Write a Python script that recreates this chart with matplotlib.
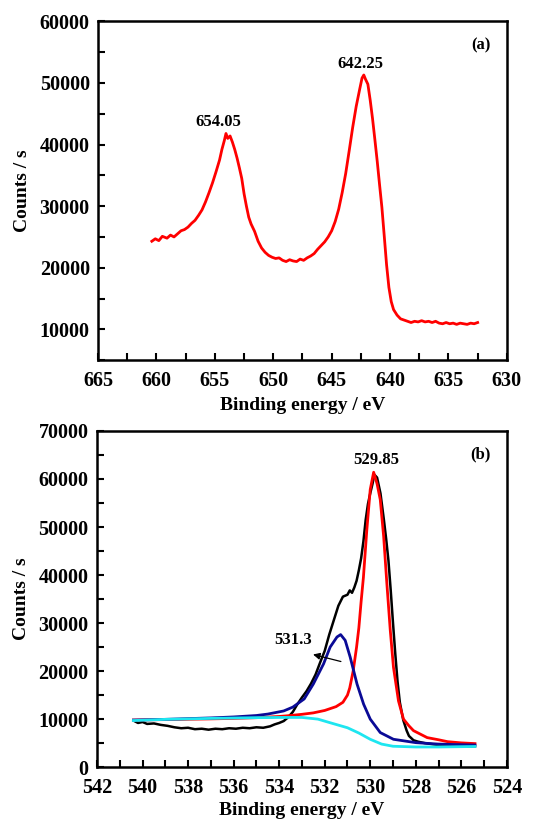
import matplotlib
matplotlib.use("Agg")
import matplotlib.pyplot as plt
from matplotlib.ticker import MultipleLocator

plt.rcParams['font.family'] = ['Liberation Serif', 'DejaVu Serif']
plt.rcParams['font.weight'] = 'bold'

# (a) Mn 2p spectrum
mn_x = [660.4, 660.1, 659.8, 659.5, 659.1, 658.8, 658.5, 658.2, 657.9, 657.6,
        657.3, 657.0, 656.7, 656.4, 656.1, 655.8, 655.5, 655.2, 654.9, 654.6,
        654.4, 654.2, 654.05, 653.9, 653.7, 653.5, 653.3, 653.1, 652.9, 652.7,
        652.5, 652.3, 652.1, 651.9, 651.6, 651.3, 651.0, 650.7, 650.4, 650.1,
        649.8, 649.5, 649.2, 648.9, 648.6, 648.3, 648.0, 647.7, 647.4, 647.1,
        646.8, 646.5, 646.2, 645.9, 645.6, 645.3, 645.0, 644.7, 644.4, 644.1,
        643.8, 643.5, 643.2, 642.9, 642.6, 642.4, 642.25, 642.1, 641.9, 641.7,
        641.5, 641.3, 641.1, 640.9, 640.7, 640.5, 640.3, 640.1, 639.9, 639.7,
        639.4, 639.1, 638.8, 638.5, 638.2, 637.9, 637.6, 637.3, 637.0, 636.7,
        636.4, 636.1, 635.8, 635.5, 635.2, 634.9, 634.6, 634.3, 634.0, 633.7,
        633.4, 633.1, 632.8, 632.5]
mn_y = [24300, 24700, 24400, 25100, 24800, 25300, 25000, 25500, 26000, 26200,
        26600, 27200, 27700, 28500, 29400, 30700, 32200, 33800, 35600, 37500,
        39200, 40600, 41800, 41000, 41400, 40400, 39200, 37800, 36200, 34500,
        32000, 30000, 28200, 27100, 25900, 24300, 23200, 22500, 22000, 21700,
        21500, 21600, 21200, 21000, 21300, 21100, 21000, 21400, 21200, 21600,
        21900, 22300, 23000, 23600, 24200, 25000, 26000, 27500, 29500, 32200,
        35300, 39000, 42800, 46200, 49000, 50800, 51300, 50600, 49800, 47200,
        44200, 40800, 37300, 33500, 29800, 25200, 20500, 16800, 14500, 13200,
        12300, 11700, 11500, 11300, 11100, 11300, 11200, 11400, 11200, 11300,
        11100, 11300, 11000, 10900, 11100, 10900, 11000, 10800, 11000, 10900,
        10800, 11000, 10900, 11100]

# (b) O 1s spectrum and fitted components
o_x = [540.4, 540.2, 540.0, 539.8, 539.5, 539.2, 538.9, 538.6, 538.3, 538.0,
       537.7, 537.4, 537.1, 536.8, 536.5, 536.2, 535.9, 535.6, 535.3, 535.0,
       534.7, 534.4, 534.2, 534.0, 533.8, 533.6, 533.4, 533.2, 533.0, 532.8,
       532.6, 532.4, 532.2, 532.0, 531.8, 531.6, 531.4, 531.2, 531.0, 530.9,
       530.8, 530.7, 530.6, 530.5, 530.4, 530.3, 530.2, 530.1, 530.0, 529.9,
       529.82, 529.7, 529.55, 529.4, 529.3, 529.2, 529.1, 529.0, 528.9, 528.8,
       528.7, 528.55, 528.4, 528.3, 528.1, 527.9, 527.6, 527.3, 527.0, 526.6,
       526.2, 525.8, 525.4]
o_y = [9700, 9200, 9400, 9000, 9100, 8800, 8600, 8300, 8100, 8200,
       7900, 8000, 7800, 8000, 7900, 8100, 8000, 8200, 8100, 8300,
       8200, 8500, 8900, 9200, 9600, 10400, 11500, 13100, 14500, 15800,
       17400, 19300, 21800, 24200, 27600, 30600, 33600, 35500, 35900, 36800,
       36300, 37400, 38800, 41000, 43500, 47000, 51500, 54800, 57000, 59000,
       60900, 60300, 57000, 51500, 47500, 43000, 36800, 30000, 23600, 17800,
       13500, 9800, 7600, 6500, 5600, 5300, 5000, 4800, 4600, 4500,
       4400, 4300, 4350]

red_x = [540.4, 539.0, 537.0, 536.0, 535.0, 534.0, 533.5, 533.0, 532.5, 532.0,
         531.5, 531.2, 531.0, 530.9, 530.75, 530.6, 530.5, 530.4, 530.3, 530.15,
         530.0, 529.85, 529.7, 529.56, 529.41, 529.27, 529.12, 528.98, 528.76, 528.54,
         528.3, 528.1, 527.5, 527.0, 526.6, 526.0, 525.4]
red_y = [9800, 9900, 10050, 10150, 10300, 10550, 10750, 11000, 11300, 11800,
         12600, 13500, 15000, 16500, 20000, 25000, 29000, 34500, 39500, 49400,
         57800, 61400, 59000, 55700, 48000, 38250, 28480, 20800, 13800, 10000,
         8600, 7600, 6150, 5700, 5300, 5050, 4900]

blue_x = [540.4, 539.0, 538.0, 537.0, 536.0, 535.0, 534.5, 533.8, 533.4, 532.9,
          532.5, 532.05, 531.76, 531.46, 531.3, 531.1, 530.88, 530.58, 530.29, 530.0,
          529.56, 528.98, 528.0, 527.0, 525.4]
blue_y = [9800, 9950, 10100, 10250, 10450, 10750, 11050, 11700, 12500, 14200,
          17300, 21500, 25000, 27100, 27600, 26400, 22900, 17300, 13100, 10000,
          7200, 5800, 5100, 4800, 4600]

cyan_x = [540.4, 539.0, 537.0, 535.0, 534.0, 533.0, 532.3, 531.8, 531.0, 530.5,
          530.0, 529.5, 529.0, 528.0, 527.0, 525.4]
cyan_y = [9700, 9950, 10150, 10300, 10350, 10350, 10000, 9300, 8200, 7100,
          5800, 4800, 4350, 4200, 4200, 4300]


def style_axes(ax):
    for s in ax.spines.values():
        s.set_linewidth(1.8)
    ax.tick_params(which='both', direction='in', length=5, width=1.5,
                   labelsize=14.5, top=False, right=False)
    ax.tick_params(axis='x', which='both', pad=8)
    ax.tick_params(axis='y', which='both', pad=6)
    for lab in ax.get_xticklabels() + ax.get_yticklabels():
        lab.set_fontweight('bold')
    ax.set_xlabel('Binding energy / eV', fontsize=14, fontweight='bold', labelpad=4)
    ax.set_ylabel('Counts / s', fontsize=14, fontweight='bold', labelpad=6)


fig = plt.figure(figsize=(5.45, 8.24), dpi=100)

ax1 = fig.add_axes([0.180, 0.563, 0.750, 0.411])
ax1.plot(mn_x, mn_y, color='red', lw=2.0)
ax1.set_xlim(665, 630)
ax1.set_ylim(5000, 60000)
ax1.xaxis.set_major_locator(MultipleLocator(5))
ax1.xaxis.set_minor_locator(MultipleLocator(2.5))
ax1.yaxis.set_major_locator(MultipleLocator(10000))
ax1.yaxis.set_minor_locator(MultipleLocator(5000))
style_axes(ax1)
ax1.text(0.96, 0.93, '(a)', transform=ax1.transAxes, fontsize=12,
         fontweight='bold', ha='right', va='center')
ax1.text(654.7, 42300, '654.05', fontsize=12, fontweight='bold', ha='center', va='bottom')
ax1.text(642.55, 51800, '642.25', fontsize=12, fontweight='bold', ha='center', va='bottom')

ax2 = fig.add_axes([0.178, 0.069, 0.752, 0.408])
ax2.plot(o_x, o_y, color='black', lw=1.8)
ax2.plot(red_x, red_y, color='red', lw=2.0)
ax2.plot(blue_x, blue_y, color='#0a0a96', lw=2.0)
ax2.plot(cyan_x, cyan_y, color='#1ee6f0', lw=2.0)
ax2.set_xlim(542, 524)
ax2.set_ylim(0, 70000)
ax2.xaxis.set_major_locator(MultipleLocator(2))
ax2.xaxis.set_minor_locator(MultipleLocator(1))
ax2.yaxis.set_major_locator(MultipleLocator(10000))
ax2.yaxis.set_minor_locator(MultipleLocator(5000))
style_axes(ax2)
ax2.xaxis.labelpad = 3
ax2.text(0.96, 0.93, '(b)', transform=ax2.transAxes, fontsize=12,
         fontweight='bold', ha='right', va='center')
ax2.text(529.75, 62300, '529.85', fontsize=12, fontweight='bold', ha='center', va='bottom')
ax2.text(533.37, 26400, '531.3', fontsize=12, fontweight='bold', ha='center', va='center')
ax2.annotate('', xy=(532.63, 23600), xytext=(531.17, 21850),
             arrowprops=dict(arrowstyle='-|>', color='black', lw=0.9,
                             mutation_scale=10))

fig.savefig('out.png', dpi=100)
